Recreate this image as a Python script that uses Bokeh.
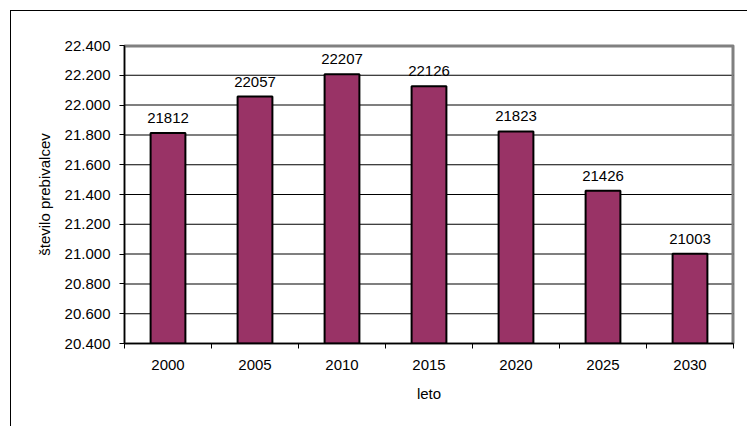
from bokeh.plotting import figure
from bokeh.models import FixedTicker, ColumnDataSource, Range1d, InlineStyleSheet
from bokeh.embed import file_html
from bokeh.resources import INLINE

years = ["2000", "2005", "2010", "2015", "2020", "2025", "2030"]
population = [21812, 22057, 22207, 22126, 21823, 21426, 21003]
y_ticks = [20400, 20600, 20800, 21000, 21200, 21400, 21600, 21800, 22000, 22200, 22400]
y_tick_labels = ["20.400", "20.600", "20.800", "21.000", "21.200", "21.400",
                 "21.600", "21.800", "22.000", "22.200", "22.400"]

BAR = "#993366"

xs = list(range(len(years)))
src = ColumnDataSource(dict(x=xs, y=population, lbl=[str(v) for v in population]))

x_lo, x_hi = -0.5, len(years) - 0.5
y_lo, y_hi = y_ticks[0], y_ticks[-1]
p = figure(width=747, height=426, output_backend="svg", toolbar_location=None,
           x_range=Range1d(x_lo, x_hi),
           y_range=Range1d(y_lo, y_hi),
           min_border_left=124, min_border_right=14,
           min_border_top=45, min_border_bottom=83)

p.outline_line_color = "#808080"
p.outline_line_width = 2
p.xgrid.grid_line_color = None
p.ygrid.grid_line_color = None

# frame height 298 px, width 609 px -> one pixel in data units
px_y = (y_hi - y_lo) / 298.0
px_x = (x_hi - x_lo) / 609.0

# gridlines as thin filled boxes (behind the bars)
p.hbar(y=y_ticks[1:-1], left=x_lo, right=x_hi, height=px_y,
       fill_color="black", line_color=None)
# grey plot-area border: top and right
p.hbar(y=[y_hi], left=x_lo, right=x_hi, height=4 * px_y,
       fill_color="#808080", line_color=None)
p.vbar(x=[x_hi], bottom=y_lo, top=y_hi, width=4 * px_x,
       fill_color="#808080", line_color=None)

p.vbar(x="x", top="y", bottom=y_lo, width=0.4, source=src,
       fill_color=BAR, line_color="black", line_width=2)

p.text(x="x", y="y", text="lbl", source=src, text_align="center",
       text_baseline="alphabetic", y_offset=-15,
       text_font_size="15px", text_color="black")

# y axis
p.yaxis.ticker = FixedTicker(ticks=y_ticks)
p.yaxis.major_label_overrides = {t: l for t, l in zip(y_ticks, y_tick_labels)}
p.yaxis.major_tick_out = 5
p.yaxis.major_tick_in = 0
p.yaxis.minor_tick_out = 0
p.yaxis.minor_tick_in = 0
p.yaxis.axis_line_color = "black"
p.yaxis.axis_line_width = 1.5
p.yaxis.major_label_standoff = 9
p.yaxis.major_label_text_font_size = "15px"
p.yaxis.major_label_text_color = "black"
p.yaxis.axis_label = "število prebivalcev"
p.yaxis.axis_label_text_font_size = "15px"
p.yaxis.axis_label_text_font_style = "normal"
p.yaxis.axis_label_text_color = "black"
p.yaxis.axis_label_standoff = 9

# x axis
p.xaxis.ticker = FixedTicker(ticks=xs, minor_ticks=[i - 0.5 for i in range(len(years) + 1)])
p.xaxis.major_label_overrides = {i: y for i, y in zip(xs, years)}
p.xaxis.major_tick_out = 0
p.xaxis.major_tick_in = 0
p.xaxis.minor_tick_out = 5
p.xaxis.minor_tick_in = 0
p.xaxis.axis_line_color = "black"
p.xaxis.axis_line_width = 1.5
p.xaxis.major_label_standoff = 11
p.xaxis.major_label_text_font_size = "15px"
p.xaxis.major_label_text_color = "black"
p.xaxis.axis_label = "leto"
p.xaxis.axis_label_text_font_size = "15px"
p.xaxis.axis_label_text_font_style = "normal"
p.xaxis.axis_label_text_color = "black"
p.xaxis.axis_label_standoff = 12

# outer chart-area frame (top and left edges visible in the window)
p.stylesheets = [InlineStyleSheet(css="""
:host::before {
  content: "";
  position: absolute;
  left: 10px; top: 10px;
  width: 737px; height: 416px;
  border-left: 1.5px solid black;
  border-top: 1.5px solid black;
  box-sizing: border-box;
  pointer-events: none;
  z-index: 10;
}
""")]

open("out.html", "w").write(file_html(p, INLINE))
